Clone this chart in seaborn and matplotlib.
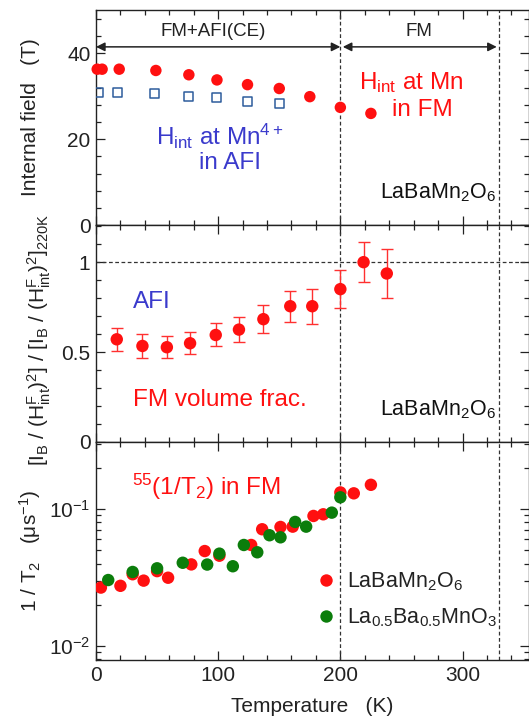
import numpy as np
import pandas as pd
import matplotlib
matplotlib.use("Agg")
import matplotlib.pyplot as plt
import seaborn as sns
from matplotlib.ticker import MultipleLocator, FixedLocator, FixedFormatter, LogLocator, NullFormatter

# ---------------- data ----------------
# top panel: internal field (T)
T_fm_top = [1, 5, 19, 49, 76, 99, 124, 150, 175, 200, 225]
H_fm = [36.3, 36.3, 36.3, 36.0, 35.0, 33.8, 32.7, 31.8, 29.9, 27.4, 26.0]
T_afi = [2, 18, 48, 76, 99, 124, 150]
H_afi = [30.9, 30.9, 30.7, 29.9, 29.8, 28.8, 28.2]

# middle panel: FM volume fraction (normalised)
T_frac = [17, 38, 58, 77, 98, 117, 137, 159, 177, 200, 219, 238]
frac = [0.571, 0.534, 0.527, 0.549, 0.595, 0.625, 0.683, 0.755, 0.755, 0.850, 1.0, 0.937]
frac_err = [0.065, 0.067, 0.060, 0.060, 0.064, 0.068, 0.078, 0.085, 0.098, 0.105, 0.110, 0.135]

# bottom panel: 1/T2 (us^-1)
T_r = [4, 20, 30, 39, 50, 59, 78, 89, 101, 127, 136, 151, 161, 178, 186, 200, 211, 225]
R_r = [0.0267, 0.0275, 0.0334, 0.0300, 0.0352, 0.0315, 0.0394, 0.0493, 0.0456,
       0.0546, 0.0711, 0.0739, 0.0743, 0.0889, 0.0914, 0.132, 0.130, 0.150]
T_g = [10, 30, 50, 71, 91, 101, 112, 121, 132, 142, 151, 163, 172, 193, 200]
R_g = [0.0303, 0.0347, 0.0369, 0.0405, 0.0393, 0.0472, 0.0382, 0.0546, 0.0483,
       0.0643, 0.0621, 0.0804, 0.0743, 0.0940, 0.1216]

sample_r = 'LaBaMn$_2$O$_6$'
sample_g = 'La$_{0.5}$Ba$_{0.5}$MnO$_3$'
x_ticks = [0, 100, 200, 300]

# ---------------- style ----------------
sns.set_style("ticks")
plt.rcParams.update({
    'font.family': ['Liberation Sans', 'DejaVu Sans'],
    'mathtext.fontset': 'custom',
    'mathtext.rm': 'Liberation Sans',
    'mathtext.it': 'Liberation Sans:italic',
    'mathtext.bf': 'Liberation Sans:bold',
    'mathtext.default': 'regular',
    'xtick.direction': 'in', 'ytick.direction': 'in',
    'axes.edgecolor': '#222222', 'axes.linewidth': 1.0,
    'xtick.color': '#222222', 'ytick.color': '#222222',
    'text.color': '#222222', 'axes.labelcolor': '#222222',
})

RED = '#ff1010'
GREEN = '#0b7d0b'
BLUE_TXT = '#3a3acc'
BLUE_SQ = '#2d5c9c'
LS = (0, (3, 2))

fig = plt.figure(figsize=(5.29, 7.21), dpi=100)
L, W = 96 / 529, 433 / 529
ax1 = fig.add_axes([L, 0.6879, W, 0.2989])
ax2 = fig.add_axes([L, 0.3870, W, 0.3010])
ax3 = fig.add_axes([L, 0.0846, W, 0.3024])

for ax in (ax1, ax2, ax3):
    ax.set_xlim(0, 354.4)
    ax.xaxis.set_major_locator(FixedLocator(x_ticks))
    ax.xaxis.set_minor_locator(MultipleLocator(20))
    ax.tick_params(which='both', top=True, right=True, labelsize=15, width=0.9)
    ax.tick_params(which='major', length=6.5, pad=4)
    ax.tick_params(which='minor', length=3.5)
    ax.axvline(200, ls=LS, lw=0.9, color='#333333', zorder=1)
    ax.axvline(330, ls=LS, lw=0.9, color='#333333', zorder=1)
    for s in ax.spines.values():
        s.set_visible(True)

# ---------------- top ----------------
df_fm = pd.DataFrame({'T': T_fm_top, 'H': H_fm})
df_afi = pd.DataFrame({'T': T_afi, 'H': H_afi})
sns.scatterplot(data=df_afi, x='T', y='H', ax=ax1, marker='s', s=42,
                facecolors='none', edgecolor=BLUE_SQ, linewidth=1.1, zorder=3)
sns.scatterplot(data=df_fm, x='T', y='H', ax=ax1, color=RED, s=68,
                edgecolor='none', zorder=4, clip_on=False)
ax1.set_ylim(0, 50.2)
ax1.yaxis.set_major_locator(FixedLocator([0, 20, 40]))
ax1.yaxis.set_major_formatter(FixedFormatter(['0', '20', '40']))
ax1.yaxis.set_minor_locator(MultipleLocator(4))
ax1.set_xlabel('')
ax1.set_ylabel('Internal field   (T)', fontsize=15)
ax1.yaxis.set_label_coords(-0.129, 0.5)
ax1.tick_params(labelbottom=False)

ax1.annotate('', xy=(0, 41.5), xytext=(200, 41.5),
             arrowprops=dict(arrowstyle='<|-|>', color='#222222', lw=1.1,
                             shrinkA=0, shrinkB=0, mutation_scale=13))
ax1.annotate('', xy=(202, 41.5), xytext=(328, 41.5),
             arrowprops=dict(arrowstyle='<|-|>', color='#222222', lw=1.1,
                             shrinkA=0, shrinkB=0, mutation_scale=13))
ax1.text(96, 45.0, 'FM+AFI(CE)', ha='center', va='center', fontsize=13.5)
ax1.text(264, 45.0, 'FM', ha='center', va='center', fontsize=13.5)
ax1.text(258, 33.2, 'H$_{int}$ at Mn', ha='center', va='center', fontsize=17.5, color=RED)
ax1.text(267, 26.9, 'in FM', ha='center', va='center', fontsize=17.5, color=RED)
ax1.text(101, 20.7, 'H$_{int}$ at Mn$^{4+}$', ha='center', va='center', fontsize=17.5, color=BLUE_TXT)
ax1.text(110, 14.4, 'in AFI', ha='center', va='center', fontsize=17.5, color=BLUE_TXT)
ax1.text(327, 7.6, 'LaBaMn$_2$O$_6$', ha='right', va='center', fontsize=15.5, color='#111111')

# ---------------- middle ----------------
df_frac = pd.DataFrame({'T': T_frac, 'f': frac, 'err': frac_err})
ax2.errorbar(df_frac['T'], df_frac['f'], yerr=df_frac['err'], fmt='none',
             ecolor='#ff3030', elinewidth=1.0, capsize=4, capthick=1.0, zorder=3)
sns.scatterplot(data=df_frac, x='T', y='f', ax=ax2, color=RED, s=80,
                edgecolor='none', zorder=4)
ax2.axhline(1.0, ls=LS, lw=0.9, color='#333333', zorder=1)
ax2.set_ylim(0, 1.207)
ax2.yaxis.set_major_locator(FixedLocator([0, 0.5, 1.0]))
ax2.yaxis.set_major_formatter(FixedFormatter(['0', '0.5', '1']))
ax2.yaxis.set_minor_locator(MultipleLocator(0.1))
ax2.set_xlabel('')
ax2.set_ylabel(r'[I$_B$ / (H$_{int}^{F}$)$^2$] / [I$_B$ / (H$_{int}^{F}$)$^2$]$_{220K}$', fontsize=15)
ax2.yaxis.set_label_coords(-0.10, 0.47)
ax2.tick_params(labelbottom=False)
ax2.text(30.5, 0.781, 'AFI', ha='left', va='center', fontsize=17.5, color=BLUE_TXT)
ax2.text(30.5, 0.234, 'FM volume frac.', ha='left', va='center', fontsize=17.5, color=RED)
ax2.text(327, 0.178, 'LaBaMn$_2$O$_6$', ha='right', va='center', fontsize=15.5, color='#111111')

# ---------------- bottom ----------------
df_t2 = pd.concat([
    pd.DataFrame({'T': T_r, 'R': R_r, 'sample': sample_r}),
    pd.DataFrame({'T': T_g, 'R': R_g, 'sample': sample_g}),
], ignore_index=True)
sns.scatterplot(data=df_t2, x='T', y='R', hue='sample', ax=ax3,
                palette={sample_r: RED, sample_g: GREEN}, s=80,
                edgecolor='none', zorder=3)
ax3.set_yscale('log')
ax3.set_ylim(0.00791, 0.308)
ax3.yaxis.set_major_locator(FixedLocator([0.01, 0.1]))
ax3.yaxis.set_major_formatter(FixedFormatter(['$10^{-2}$', '$10^{-1}$']))
ax3.yaxis.set_minor_locator(LogLocator(base=10, subs=np.arange(2, 10)))
ax3.yaxis.set_minor_formatter(NullFormatter())
ax3.xaxis.set_major_formatter(FixedFormatter([str(v) for v in x_ticks]))
ax3.set_xlabel('Temperature   (K)', fontsize=15, labelpad=9)
ax3.set_ylabel('1 / T$_2$   (μs$^{-1}$)', fontsize=15)
ax3.yaxis.set_label_coords(-0.122, 0.5)
ax3.text(29.2, 0.1456, '$^{55}$(1/T$_2$) in FM', ha='left', va='center', fontsize=17.5, color=RED)
sns.move_legend(ax3, loc='center left', bbox_to_anchor=(0.465, 0.278), frameon=False,
                title=None, fontsize=15.5, handlelength=0.9, handletextpad=0.5,
                labelspacing=0.62, borderpad=0.4)

fig.savefig('out.png', dpi=100)
